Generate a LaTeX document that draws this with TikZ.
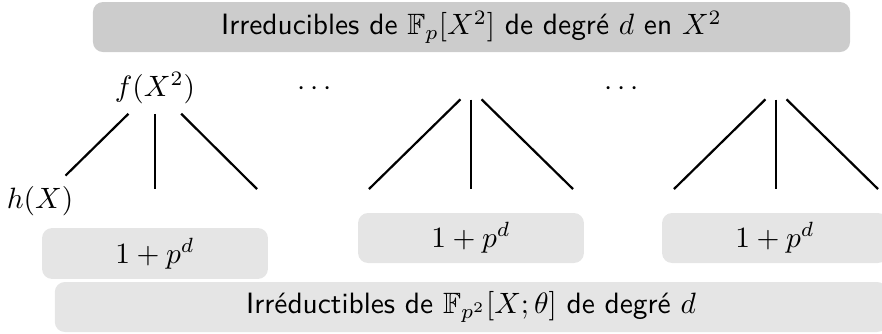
\documentclass[tikz,border=0pt]{standalone}
\usepackage{fontspec}
\usepackage{amssymb}
\begin{document}
\begin{tikzpicture}[x=0.34pt,y=-0.34pt,
  every node/.style={font=\normalsize},
  boxbase/.style={rounded corners=3.4pt, inner sep=0pt, minimum height=17pt},
  topbox/.style={boxbase, fill=black!20, minimum width=257.4pt},
  countbox/.style={boxbase, fill=black!10, minimum width=76.8pt},
  botbox/.style={boxbase, fill=black!10, minimum width=283pt},
  apex/.style={inner sep=3.4pt},
  branch/.style={line width=0.75pt}]
\useasboundingbox (0,0) rectangle (882,333);
\clip (0,0) rectangle (882,333);
% boxes
\node[topbox] (top) at (471.5,27) {\sffamily Irreducibles de $\mathbb{F}_p[X^2]$ de degré $d$ en $X^2$};
\node[countbox, minimum height=17.3pt] (b1) at (155,253.5) {$1+p^d$};
\node[countbox] (b2) at (471,238) {$1+p^d$};
\node[countbox] (b3) at (775,238) {$1+p^d$};
\node[botbox] (bot) at (471,307) {\sffamily Irréductibles de $\mathbb{F}_{p^2}[X;\theta]$ de degré $d$};
% tree 1
\node[anchor=base] (f) at (155,96) {$f(X^2)$};
\node[anchor=base] (h) at (40,208) {$h(X)$};
\coordinate (c12) at (155,189);
\coordinate (c13) at (257,189);
\draw[branch] (f) -- (h);
\draw[branch] (f) -- (c12);
\draw[branch] (f) -- (c13);
% dots
\node[anchor=base] (d1) at (315,95) {$\cdots$};
\node[anchor=base] (d2) at (622,95) {$\cdots$};
% tree 2
\node[apex] (a2) at (471,89) {};
\coordinate (c21) at (369,189);
\coordinate (c22) at (471,189);
\coordinate (c23) at (573,189);
\draw[branch] (a2) -- (c21);
\draw[branch] (a2) -- (c22);
\draw[branch] (a2) -- (c23);
% tree 3
\node[apex] (a3) at (776,89) {};
\coordinate (c31) at (674,189);
\coordinate (c32) at (776,189);
\coordinate (c33) at (878,189);
\draw[branch] (a3) -- (c31);
\draw[branch] (a3) -- (c32);
\draw[branch] (a3) -- (c33);
\end{tikzpicture}
\end{document}
